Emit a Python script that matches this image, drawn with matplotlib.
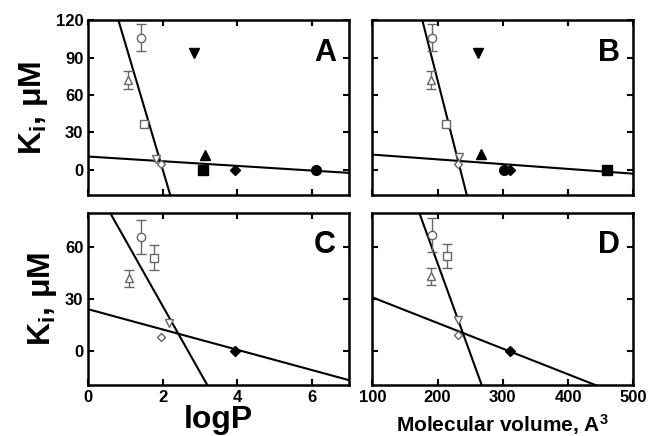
import numpy as np
import matplotlib.pyplot as plt

plt.rcParams['font.family'] = ['Liberation Sans', 'DejaVu Sans']
plt.rcParams['font.weight'] = 'bold'
plt.rcParams['mathtext.fontset'] = 'custom'
plt.rcParams['mathtext.rm'] = 'Liberation Sans:bold'
plt.rcParams['mathtext.it'] = 'Liberation Sans:bold'
plt.rcParams['mathtext.bf'] = 'Liberation Sans:bold'

# open symbols: circle, triangle up, square, triangle down, diamond
open_markers = ['o', '^', 's', 'v', 'D']
# filled symbols in A/B: triangle down, triangle up, square, diamond, circle
filled_markers = ['v', '^', 's', 'D', 'o']

# panel A (logP)
a_open_x = [1.41, 1.07, 1.49, 1.81, 1.95]
a_open_y = [106, 72, 37, 9, 5]
a_open_err = [11, 7, 0, 0, 0]
a_filled_x = [2.85, 3.14, 3.09, 3.95, 6.12]
a_filled_y = [94, 12, 0, 0, 0]

# panel B (molecular volume)
b_open_x = [191, 190, 213, 233, 231]
b_open_y = [106, 72, 37, 10, 5]
b_open_err = [11, 7, 0, 0, 0]
b_filled_x = [262, 266, 459, 311, 301]
b_filled_y = [94, 13, 0, 0, 0]

# panel C (logP)
c_open_x = [1.41, 1.10, 1.76, 2.18, 1.96]
c_open_y = [66, 42, 54, 16, 8]
c_open_err = [10, 5, 7, 0, 0]
c_filled_x = [3.95]
c_filled_y = [0]

# panel D (molecular volume)
d_open_x = [191, 190, 214, 231, 231]
d_open_y = [67, 43, 55, 18, 9]
d_open_err = [10, 5, 7, 0, 0]
d_filled_x = [311]
d_filled_y = [0]

# fitted lines: (intercept, slope) steep / shallow
a_lines = [(201.6, -100.7), (10.7, -1.87)]
b_lines = [(483.1, -2.056), (16.1, -0.03825)]
c_lines = [(102.6, -38.4), (24.0, -5.89)]
d_lines = [(259.9, -1.046), (45.8, -0.149)]

fig = plt.figure(figsize=(6.48, 4.36), dpi=100)
w, h_top, h_bot = 0.403, 0.401, 0.395
ax_a = fig.add_axes([0.136, 0.553, w, h_top])
ax_b = fig.add_axes([0.5745, 0.553, w, h_top])
ax_c = fig.add_axes([0.136, 0.117, w, h_bot])
ax_d = fig.add_axes([0.5745, 0.117, w, h_bot])

gray = '#666666'


def draw_panel(ax, ox, oy, oerr, fx, fy, fmarkers, lines, xlim, ylim, letter):
    xs = np.array(xlim)
    for b, m in lines:
        ax.plot(xs, b + m * xs, color='black', lw=1.5, zorder=2)
    for x, y, e, mk in zip(ox, oy, oerr, open_markers):
        ms = 4.5 if mk == 'D' else 6
        if e:
            ax.errorbar(x, y, yerr=e, fmt='none', ecolor=gray, elinewidth=1,
                        capsize=3.5, capthick=1, zorder=3)
        ax.plot(x, y, marker=mk, ms=ms, mfc='white', mec=gray, mew=1, ls='none', zorder=4)
    for x, y, mk in zip(fx, fy, fmarkers):
        ms = 5 if mk == 'D' else 7
        ax.plot(x, y, marker=mk, ms=ms, color='black', ls='none', zorder=4)
    ax.set_xlim(xlim)
    ax.set_ylim(ylim)
    ax.text(0.95, 0.9, letter, transform=ax.transAxes, ha='right', va='top',
            fontsize=22, fontweight='bold')
    ax.tick_params(direction='in', top=True, right=True, length=4, width=1.5,
                   labelsize=12)
    for s in ax.spines.values():
        s.set_linewidth(1.8)


draw_panel(ax_a, a_open_x, a_open_y, a_open_err, a_filled_x, a_filled_y,
           filled_markers, a_lines, (0, 7), (-20, 120), 'A')
draw_panel(ax_b, b_open_x, b_open_y, b_open_err, b_filled_x, b_filled_y,
           filled_markers, b_lines, (100, 500), (-20, 120), 'B')
draw_panel(ax_c, c_open_x, c_open_y, c_open_err, c_filled_x, c_filled_y,
           ['D'], c_lines, (0, 7), (-20, 80), 'C')
draw_panel(ax_d, d_open_x, d_open_y, d_open_err, d_filled_x, d_filled_y,
           ['D'], d_lines, (100, 500), (-20, 80), 'D')

for ax in (ax_a, ax_c):
    ax.set_xticks([0, 2, 4, 6])
for ax in (ax_b, ax_d):
    ax.set_xticks([100, 200, 300, 400, 500])
for ax in (ax_a, ax_b):
    ax.set_yticks([0, 30, 60, 90, 120])
    ax.tick_params(labelbottom=False)
for ax in (ax_c, ax_d):
    ax.set_yticks([0, 30, 60])
for ax in (ax_b, ax_d):
    ax.tick_params(labelleft=False)

for ax in (ax_a, ax_c):
    ax.set_ylabel(r'K$_\mathrm{i}$, μM', fontsize=23, fontweight='bold', labelpad=4)
ax_c.set_xlabel('logP', fontsize=23, fontweight='bold', labelpad=0)
ax_d.set_xlabel(r'Molecular volume, A$^3$', fontsize=15, fontweight='bold', labelpad=5)

fig.savefig('out.png', dpi=100)
